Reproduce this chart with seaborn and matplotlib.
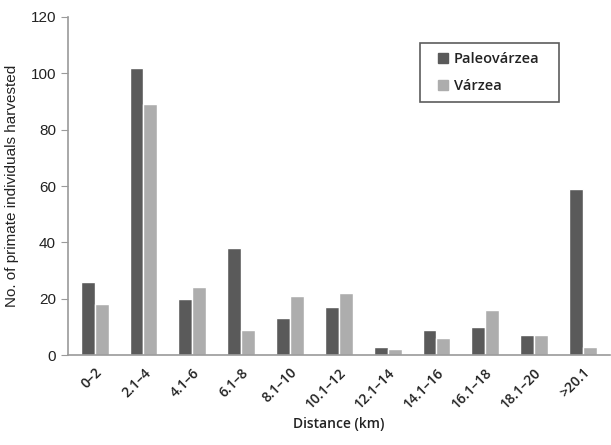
import pandas as pd
import seaborn as sns
import matplotlib.pyplot as plt
from matplotlib.lines import Line2D

# data
distances = ["0\u20132", "2.1\u20134", "4.1\u20136", "6.1\u20138", "8.1\u201310",
             "10.1\u201312", "12.1\u201314", "14.1\u201316", "16.1\u201318",
             "18.1\u201320", ">20.1"]
paleovarzea = [26, 102, 20, 38, 13, 17, 3, 9, 10, 7, 59]
varzea = [18, 89, 24, 9, 21, 22, 2, 6, 16, 7, 3]
series = ["Paleov\u00e1rzea", "V\u00e1rzea"]
colors = ["#5a5a5a", "#adadad"]

df = pd.DataFrame({
    "Distance": distances * 2,
    "Count": paleovarzea + varzea,
    "Habitat": [series[0]] * len(distances) + [series[1]] * len(distances),
})

sns.set_style("white")
plt.rcParams["font.family"] = ["Open Sans", "DejaVu Sans"]

fig = plt.figure(figsize=(6.11, 4.45), dpi=100)
ax = fig.add_axes([0.111, 0.202, 0.887, 0.76])

sns.barplot(data=df, x="Distance", y="Count", hue="Habitat",
            palette=colors, width=0.57, gap=0, saturation=1,
            legend=False, ax=ax)

ax.set_ylim(0, 120)
ax.set_yticks(range(0, 121, 20))
ax.set_xlim(-0.55, len(distances) - 0.45)

for s in ["top", "right"]:
    ax.spines[s].set_visible(False)
for s in ["left", "bottom"]:
    ax.spines[s].set_color("#9a9a9a")
    ax.spines[s].set_linewidth(1.2)

ax.tick_params(axis="y", left=True, length=5, color="#9a9a9a", labelsize=11,
               labelcolor="#222222")
ax.tick_params(axis="x", bottom=False, labelsize=10, pad=4, labelcolor="#222222")
for lbl in ax.get_yticklabels():
    lbl.set_family("Liberation Sans")
plt.setp(ax.get_xticklabels(), rotation=45, ha="right", rotation_mode="anchor",
         fontweight="semibold")

ax.set_ylabel("No. of primate individuals harvested", fontsize=11,
              family="Liberation Sans", labelpad=8, color="#222222")
ax.set_xlabel("Distance (km)", fontsize=10, labelpad=4, fontweight="semibold",
              color="#222222")

# legend with square markers, box wider than its contents (Excel style)
handles = [Line2D([], [], marker="s", linestyle="", markersize=7,
                  markerfacecolor=c, markeredgecolor=c) for c in colors]
leg = ax.legend(handles, series, loc="upper left",
                bbox_to_anchor=(0.65, 0.923, 0.256, 0.0), mode="expand",
                frameon=True, fancybox=False, edgecolor="#333333",
                prop={"size": 10.5, "weight": "semibold"},
                handlelength=2.0, handletextpad=-0.3,
                labelspacing=0.9, borderpad=0.6, borderaxespad=0)
leg.get_frame().set_linewidth(1.2)
for t in leg.get_texts():
    t.set_color("#222222")

plt.savefig("out.png", dpi=100)
